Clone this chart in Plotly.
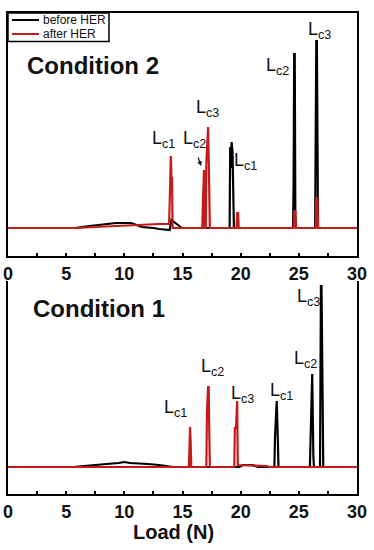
import plotly.graph_objects as go

# ---------------- data ----------------
# Condition 2 (top panel)
c2_before_x = [0, 5.8, 7.0, 8.0, 9.3, 10.6, 11.5, 12.5, 13.0, 13.9, 14.05, 14.5, 14.95,
               19.05, 19.1, 19.17, 19.22, 19.3, 19.38, 19.42,
               24.5, 24.55, 24.6, 24.65, 24.7, 24.75,
               26.4, 26.45, 26.5, 26.55, 26.6, 26.65, 30]
c2_before_y = [0, 0, 2, 3.5, 5, 5, 1, 0, -1, -2, 8, 4, 0,
               0, 81, 60, 86, 76, 20, 0,
               0, 45, 174, 174, 10, 0,
               0, 118, 187, 187, 88, 0, 0]
c2_after_x = [0, 5.8, 7.5, 9.0, 10.5, 11.5, 13.0, 13.85, 13.9, 13.95, 14.0, 14.05, 14.1, 14.15,
              16.7, 16.75, 16.8, 16.85, 16.9,
              17.0, 17.05, 17.15, 17.2, 17.28, 17.35,
              19.65, 19.7, 19.78, 19.83,
              24.55, 24.6, 24.7, 24.75,
              26.45, 26.5, 26.6, 26.65, 30]
c2_after_y = [0, 0, 1, 2, 2.5, 3, 4, 4, 40, 72, 72, 50, 50, 0,
              0, 24, 58, 58, 0,
              0, 65, 101, 101, 53, 0,
              0, 15, 15, 0,
              0, 17, 17, 0,
              0, 30, 30, 0, 0]

# Condition 1 (bottom panel)
c1_before_x = [0, 5.6, 7.5, 8.7, 9.5, 10.0, 10.5, 12.0, 13.0, 14.2,
               19.9, 20.2, 21.0, 21.5,
               22.9, 22.95, 23.05, 23.1, 23.2, 23.25,
               25.95, 26.0, 26.1, 26.15, 26.25, 26.3,
               26.82, 26.85, 26.9, 26.95, 27.05, 27.1, 30]
c1_before_y = [0, 0, 2, 3, 4, 5, 4, 3, 2, 0,
               0, 2, 2, 0,
               0, 30, 66, 66, 25, 0,
               0, 22, 93, 93, 10, 0,
               0, 149, 181, 181, 56, 0, 0]
c1_after_x = [0, 15.55, 15.6, 15.65, 15.7, 15.75,
              17.05, 17.1, 17.2, 17.25, 17.3, 17.35,
              19.45, 19.5, 19.6, 19.65, 19.7, 19.75, 22.3, 22.4, 30]
c1_after_y = [0, 0, 19, 40, 26, 0,
              0, 54, 80, 80, 37, 0,
              0, 39, 39, 66, 66, 2, 1, 0, 0]

# peak labels
c2_label_x = [26.8, 23.2, 20.4, 17.16, 16.0, 13.35]
c2_label_y = [198, 162, 67, 120, 89, 89]
c2_label_t = ["c3", "c2", "c1", "c3", "c2", "c1"]
c1_label_x = [25.84, 25.6, 23.47, 20.16, 17.58, 14.44]
c1_label_y = [170, 108, 76, 73, 100, 59]
c1_label_t = ["c3", "c2", "c1", "c3", "c2", "c1"]

x_ticks = [0, 5, 10, 15, 20, 25, 30]
series_names = ["before HER", "after HER"]
panel_titles = ["Condition 2", "Condition 1"]
x_title = "Load (N)"

# ---------------- layout helpers ----------------
W, H = 374, 550
PL, PR, PT, PB = 8, 357, 13, 494


def px_x(p):
    return (p - PL) / (PR - PL)


def px_y(p):
    return (PB - p) / (PB - PT)


BLACK = "#000000"
RED = "#c41a1a"
FONT = "Liberation Sans, Arial, sans-serif"

fig = go.Figure()
fig.add_trace(go.Scatter(x=c2_before_x, y=c2_before_y, mode="lines",
                         line=dict(color=BLACK, width=2.2), xaxis="x", yaxis="y",
                         showlegend=False))
fig.add_trace(go.Scatter(x=c2_after_x, y=c2_after_y, mode="lines",
                         line=dict(color=RED, width=2.2), xaxis="x", yaxis="y",
                         showlegend=False))
fig.add_trace(go.Scatter(x=c1_before_x, y=c1_before_y, mode="lines",
                         line=dict(color=BLACK, width=2.2), xaxis="x2", yaxis="y2",
                         showlegend=False))
fig.add_trace(go.Scatter(x=c1_after_x, y=c1_after_y, mode="lines",
                         line=dict(color=RED, width=2.2), xaxis="x2", yaxis="y2",
                         showlegend=False))

ann = []
for xv, yv, t in zip(c2_label_x, c2_label_y, c2_label_t):
    ann.append(dict(x=xv, y=yv, xref="x", yref="y", text=f"L<sub>{t}</sub>",
                    xanchor="center", yanchor="middle",
                    showarrow=False, font=dict(family=FONT, size=18, color="#111")))
for xv, yv, t in zip(c1_label_x, c1_label_y, c1_label_t):
    ann.append(dict(x=xv, y=yv, xref="x2", yref="y2", text=f"L<sub>{t}</sub>",
                    xanchor="center", yanchor="middle",
                    showarrow=False, font=dict(family=FONT, size=18, color="#111")))
# small arrow pointing at the red Lc2 peak (top panel)
ann.append(dict(x=16.6, y=62, xref="x", yref="y", ax=16.3, ay=72, axref="x", ayref="y",
                text="", showarrow=True, arrowhead=2, arrowsize=0.8, arrowwidth=1.2,
                arrowcolor="#111"))


def paper_text(px, py, text, size, bold=False, xanchor="center"):
    f = dict(family=FONT, size=size, color="#111")
    if bold:
        f["weight"] = "bold"
    return dict(x=px_x(px), y=px_y(py), xref="paper", yref="paper", text=text,
                xanchor=xanchor, yanchor="middle", showarrow=False, font=f)


# panel titles
ann.append(paper_text(93, 66, panel_titles[0], 24, bold=True))
ann.append(paper_text(98.5, 308, panel_titles[1], 24, bold=True))
# x title
ann.append(paper_text(173, 532, x_title, 20, bold=True))
# legend text
ann.append(paper_text(41, 20, series_names[0], 12, xanchor="left"))
ann.append(paper_text(41, 34, series_names[1], 12, xanchor="left"))

shapes = [
    dict(type="rect", xref="paper", yref="paper", x0=px_x(8), x1=px_x(109),
         y0=px_y(13), y1=px_y(41.5), line=dict(color=BLACK, width=1.5)),
    dict(type="line", xref="paper", yref="paper", x0=px_x(12), x1=px_x(39),
         y0=px_y(20), y1=px_y(20), line=dict(color=BLACK, width=2)),
    dict(type="line", xref="paper", yref="paper", x0=px_x(12), x1=px_x(39),
         y0=px_y(34), y1=px_y(34), line=dict(color=RED, width=2)),
]

top_dom = [px_y(256), 1]
bot_dom = [0, px_y(281)]

xcommon = dict(range=[0, 30], tickvals=x_ticks, ticktext=[str(v) for v in x_ticks],
               showline=True, linecolor=BLACK, linewidth=2, showgrid=False, zeroline=False,
               tickfont=dict(family=FONT, size=18, color="#111", weight="bold"),
               ticklen=3, tickwidth=1.5, tickcolor=BLACK, automargin=False,
               minor=dict(dtick=2.5, tick0=0, ticklen=3, tickwidth=1.5, tickcolor=BLACK,
                          ticks="inside"),
               ticklabelstandoff=0)
ycommon = dict(showline=True, linecolor=BLACK, linewidth=2, mirror=True, showgrid=False,
               zeroline=False, showticklabels=False, ticks="", automargin=False)

fig.update_layout(
    width=W, height=H,
    margin=dict(l=PL, r=W - PR, t=PT, b=H - PB, pad=0),
    plot_bgcolor="white", paper_bgcolor="white",
    showlegend=False,
    xaxis=dict(**xcommon, anchor="y", mirror=True, ticks="inside"),
    yaxis=dict(**ycommon, domain=top_dom, range=[-28, 215], anchor="x"),
    xaxis2=dict(**xcommon, anchor="y2", mirror=False, ticks="inside"),
    yaxis2=dict(**ycommon, domain=bot_dom, range=[-27, 186], anchor="x2"),
    annotations=ann,
    shapes=shapes,
)

fig.write_html("out.html", config={"displayModeBar": False},
               post_script="document.body.style.margin='0';")
